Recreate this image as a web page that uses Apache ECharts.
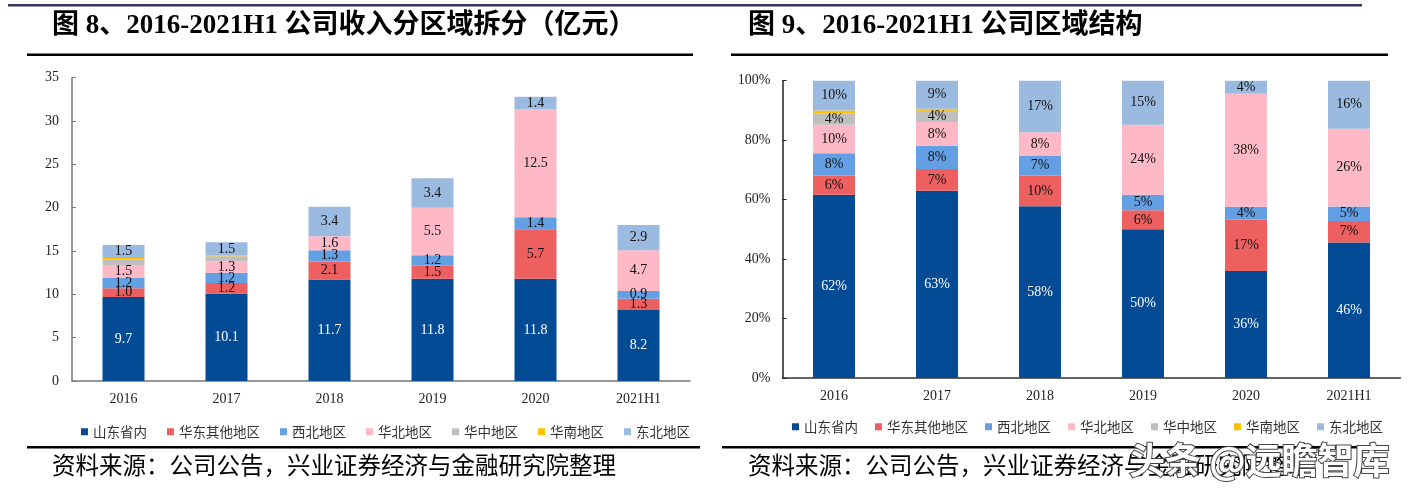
<!DOCTYPE html>
<html><head><meta charset="utf-8">
<script src="https://cdn.jsdelivr.net/npm/echarts@6/dist/echarts.min.js"></script>
<style>html,body{margin:0;padding:0;background:#fff;}#c{width:1409px;height:498px;}</style>
</head><body><div id="c"></div>
<script>
const categories = ['2016','2017','2018','2019','2020','2021H1'];
const regionNames = ['山东省内','华东其他地区','西北地区','华北地区','华中地区','华南地区','东北地区'];
// revenue by region (亿元)
const revShandong = [9.7, 10.1, 11.7, 11.8, 11.8, 8.2];
const revHuadong  = [1.0, 1.2, 2.1, 1.5, 5.7, 1.3];
const revXibei    = [1.2, 1.2, 1.3, 1.2, 1.4, 0.9];
const revHuabei   = [1.5, 1.3, 1.6, 5.5, 12.5, 4.7];
const revHuazhong = [0.6, 0.6, 0, 0, 0, 0];
const revHuanan   = [0.2, 0.1, 0, 0, 0, 0];
const revDongbei  = [1.5, 1.5, 3.4, 3.4, 1.4, 2.9];
// regional share (%)
const pctShandong = [61.6, 63.0, 57.8, 50.0, 36.0, 45.6];
const pctHuadong  = [6.4, 7.3, 10.3, 6.4, 17.3, 7.2];
const pctXibei    = [7.6, 7.8, 6.7, 5.2, 4.3, 4.9];
const pctHuabei   = [9.6, 8.0, 7.9, 23.6, 38.0, 26.1];
const pctHuazhong = [3.8, 3.8, 0, 0, 0, 0];
const pctHuanan   = [1.0, 0.7, 0, 0, 0, 0];
const pctDongbei  = [10.0, 9.4, 17.3, 14.8, 4.4, 16.2];

const colors = ['#034C95','#EE5F5F','#63A0E3','#FFB9C6','#BFBFBF','#FFC000','#9BBAE0'];
const revSeries = [revShandong, revHuadong, revXibei, revHuabei, revHuazhong, revHuanan, revDongbei];
const pctSeries = [pctShandong, pctHuadong, pctXibei, pctHuabei, pctHuazhong, pctHuanan, pctDongbei];
const revLabelOn = [true, true, true, true, false, false, true];
const pctLabelOn = [true, true, true, true, true, false, true];

const serif = "'Liberation Serif', 'Times New Roman', serif";
const cjk = "'Noto Sans CJK SC', sans-serif";
const titleFont = "'Liberation Serif', 'Noto Sans CJK SC', serif";

const series = [];
regionNames.forEach((name, i) => {
  series.push({
    name: name, type: 'bar', stack: 'rev', xAxisIndex: 0, yAxisIndex: 0,
    data: revSeries[i], barWidth: 42, itemStyle: { color: colors[i] },
    label: {
      show: revLabelOn[i], position: 'inside', fontFamily: serif, fontSize: 14,
      color: i === 0 ? '#fff' : '#111',
      formatter: p => p.value > 0 ? p.value.toFixed(1) : ''
    }
  });
});
regionNames.forEach((name, i) => {
  series.push({
    name: name, type: 'bar', stack: 'pct', xAxisIndex: 1, yAxisIndex: 1,
    data: pctSeries[i], barWidth: 42, itemStyle: { color: colors[i] },
    label: {
      show: pctLabelOn[i], position: 'inside', fontFamily: serif, fontSize: 14,
      color: i === 0 ? '#fff' : '#111',
      formatter: p => p.value > 0 ? Math.round(p.value) + '%' : ''
    }
  });
});

const legendBase = {
  data: regionNames, icon: 'rect', itemWidth: 7, itemHeight: 7,
  textStyle: { fontFamily: cjk, fontSize: 13.5, color: '#333' }, selectedMode: false
};

const chart = echarts.init(document.getElementById('c'), null, { renderer: 'canvas' });
chart.setOption({
  animation: false,
  backgroundColor: '#fff',
  grid: [
    { left: 72, top: 77.7, width: 618, height: 303.3 },
    { left: 782.5, top: 80.7, width: 618, height: 297.3 }
  ],
  xAxis: [
    { type: 'category', gridIndex: 0, data: categories,
      axisLine: { lineStyle: { color: '#777', width: 1.5 } }, axisTick: { show: false },
      axisLabel: { fontFamily: serif, fontSize: 14, color: '#222', margin: 11 } },
    { type: 'category', gridIndex: 1, data: categories,
      axisLine: { lineStyle: { color: '#333', width: 1.5 } }, axisTick: { show: false },
      axisLabel: { fontFamily: serif, fontSize: 14, color: '#222', margin: 11 } }
  ],
  yAxis: [
    { type: 'value', gridIndex: 0, min: 0, max: 35, interval: 5,
      axisLine: { show: true, lineStyle: { color: '#777', width: 1.5 } },
      axisTick: { show: true, inside: true, length: 4, lineStyle: { color: '#777' } },
      splitLine: { show: false },
      axisLabel: { fontFamily: serif, fontSize: 14, color: '#222', margin: 13 } },
    { type: 'value', gridIndex: 1, min: 0, max: 100, interval: 20,
      axisLine: { show: true, lineStyle: { color: '#222', width: 1.5 } },
      axisTick: { show: true, inside: true, length: 4, lineStyle: { color: '#222' } },
      splitLine: { show: false },
      axisLabel: { fontFamily: serif, fontSize: 14, color: '#222', margin: 12, formatter: '{value}%' } }
  ],
  legend: [
    Object.assign({ left: 76, top: 420, itemGap: 20 }, legendBase),
    Object.assign({ left: 787, top: 415, itemGap: 17 }, legendBase)
  ],
  graphic: [
    { type: 'rect', shape: { x: 8, y: 4, width: 1354, height: 2.5 }, style: { fill: '#35355f' } },
    { type: 'text', left: 52, top: 13, style: { text: '图 8、2016-2021H1 公司收入分区域拆分（亿元）', font: 'bold 27px ' + titleFont, fill: '#000' } },
    { type: 'text', left: 748, top: 13, style: { text: '图 9、2016-2021H1 公司区域结构', font: 'bold 27px ' + titleFont, fill: '#000' } },
    { type: 'rect', shape: { x: 27, y: 53.5, width: 666, height: 2.5 }, style: { fill: '#000' } },
    { type: 'rect', shape: { x: 731, y: 53.5, width: 657, height: 2.5 }, style: { fill: '#000' } },
    { type: 'rect', shape: { x: 27, y: 446, width: 673, height: 2.5 }, style: { fill: '#000' } },
    { type: 'rect', shape: { x: 722, y: 446, width: 666, height: 2.5 }, style: { fill: '#000' } },
    { type: 'text', left: 52, top: 453, style: { text: '资料来源：公司公告，兴业证券经济与金融研究院整理', font: '23.5px ' + cjk, fill: '#000' } },
    { type: 'text', left: 748, top: 453, style: { text: '资料来源：公司公告，兴业证券经济与金融研究院整理', font: '23.5px ' + cjk, fill: '#000' } },
    { type: 'text', left: 1128, top: 441, z: 100, style: { text: '头条 @远瞻智库', font: 'bold 36px ' + cjk, fill: '#fff', stroke: '#444', lineWidth: 2 } }
  ],
  series: series
});
</script></body></html>
